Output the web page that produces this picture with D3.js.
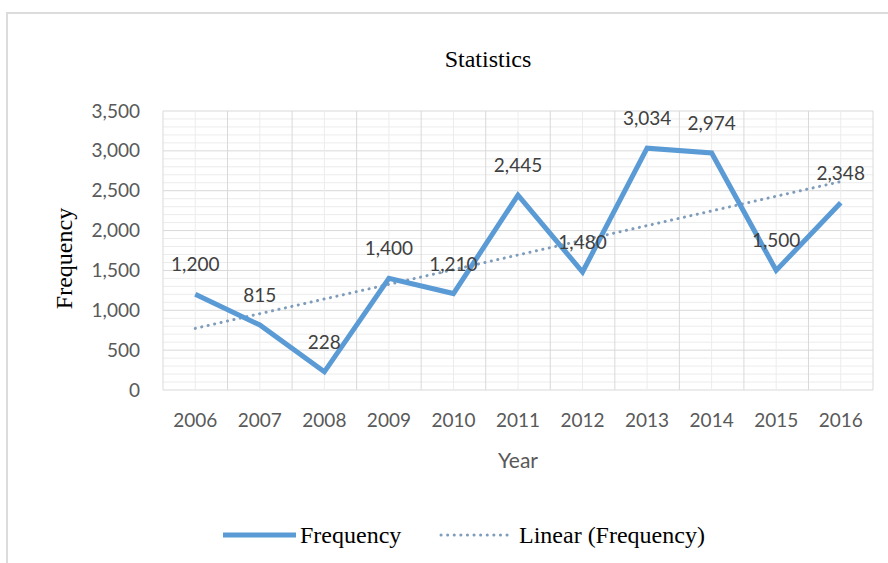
<!DOCTYPE html>
<html lang="en">
<head>
    <meta charset="UTF-8">
    <title>Statistics</title>
    <script src="https://d3js.org/d3.v7.min.js"></script>
    <style>
        body {
            margin: 0;
            background: #fff;
        }
        .serif {
            font-family: "Liberation Serif", "Times New Roman", serif;
            fill: #000;
        }
        .tick-text {
            font-family: Lato, "Open Sans", sans-serif;
            fill: #595959;
        }
    </style>
</head>
<body>
    <svg width="888" height="563"></svg>

    <script>
        const years = ['2006', '2007', '2008', '2009', '2010', '2011', '2012', '2013', '2014', '2015', '2016'];
        const frequency = [1200, 815, 228, 1400, 1210, 2445, 1480, 3034, 2974, 1500, 2348];
        const yTicks = [0, 500, 1000, 1500, 2000, 2500, 3000, 3500];

        const svg = d3.select("svg");

        // outer chart border (only left and top visible)
        svg.append("rect")
            .attr("x", 7).attr("y", 13)
            .attr("width", 900).attr("height", 600)
            .attr("fill", "none")
            .attr("stroke", "#dcdcdc")
            .attr("stroke-width", 2);

        const plot = { left: 163, right: 873, top: 111, bottom: 390 };

        const x = d3.scaleBand().domain(years).range([plot.left, plot.right]);
        const y = d3.scaleLinear().domain([0, 3500]).range([plot.bottom, plot.top]);
        const cx = d => x(d) + x.bandwidth() / 2;

        const g = svg.append("g");

        // horizontal grid, minor every 100
        g.append("g").selectAll("line")
            .data(d3.range(0, 3501, 100))
            .join("line")
            .attr("x1", plot.left).attr("x2", plot.right)
            .attr("y1", d => y(d)).attr("y2", d => y(d))
            .attr("stroke", d => d % 500 === 0 ? "#d9d9d9" : "#ececec")
            .attr("stroke-width", 1);

        // vertical grid: category borders and centers
        g.append("g").selectAll("line")
            .data(years.concat(["end"]))
            .join("line")
            .attr("x1", (d, i) => plot.left + i * x.bandwidth())
            .attr("x2", (d, i) => plot.left + i * x.bandwidth())
            .attr("y1", plot.top).attr("y2", plot.bottom)
            .attr("stroke", "#d9d9d9");
        g.append("g").selectAll("line")
            .data(years)
            .join("line")
            .attr("x1", d => cx(d)).attr("x2", d => cx(d))
            .attr("y1", plot.top).attr("y2", plot.bottom)
            .attr("stroke", "#ececec");

        // y axis labels
        const yAxis = g.append("g")
            .attr("transform", `translate(${plot.left - 23},0)`)
            .call(d3.axisLeft(y).tickValues(yTicks).tickSize(0).tickPadding(0).tickFormat(d3.format(",")));
        yAxis.select(".domain").remove();
        yAxis.selectAll("text")
            .attr("class", "tick-text")
            .style("font-size", "19px");

        // x axis labels
        const xAxis = g.append("g")
            .attr("transform", `translate(0,${plot.bottom})`)
            .call(d3.axisBottom(x).tickSize(0).tickPadding(24));
        xAxis.select(".domain").remove();
        xAxis.selectAll("text")
            .attr("class", "tick-text")
            .style("font-size", "19px");

        // titles
        svg.append("text")
            .attr("class", "serif")
            .attr("x", 488).attr("y", 67)
            .attr("text-anchor", "middle")
            .style("font-size", "24px")
            .text("Statistics");

        svg.append("text")
            .attr("class", "tick-text")
            .attr("x", (plot.left + plot.right) / 2).attr("y", 468)
            .attr("text-anchor", "middle")
            .style("font-size", "21px")
            .text("Year");

        svg.append("text")
            .attr("class", "serif")
            .attr("transform", `translate(72,${(plot.top + plot.bottom) / 2 + 8}) rotate(-90)`)
            .attr("text-anchor", "middle")
            .style("font-size", "24px")
            .text("Frequency");

        // linear trend (least squares on the series)
        const n = frequency.length;
        const mx = d3.mean(d3.range(n));
        const my = d3.mean(frequency);
        const slope = d3.sum(frequency, (v, i) => (i - mx) * (v - my)) / d3.sum(d3.range(n), i => (i - mx) ** 2);
        const icept = my - slope * mx;
        const trend = years.map((yr, i) => ({ yr, v: icept + slope * i }));

        const line = d3.line()
            .x(d => cx(d.yr))
            .y(d => y(d.v));

        g.append("path")
            .datum(trend)
            .attr("d", line)
            .attr("fill", "none")
            .attr("stroke", "#7f9dbb")
            .attr("stroke-width", 3)
            .attr("stroke-linecap", "round")
            .attr("stroke-dasharray", "0.1 6.5");

        g.append("path")
            .datum(years.map((yr, i) => ({ yr, v: frequency[i] })))
            .attr("d", line)
            .attr("fill", "none")
            .attr("stroke", "#5b9bd5")
            .attr("stroke-width", 5)
            .attr("stroke-linejoin", "miter");

        // data labels
        g.append("g").selectAll("text")
            .data(years.map((yr, i) => ({ yr, v: frequency[i] })))
            .join("text")
            .attr("class", "tick-text")
            .attr("x", d => cx(d.yr))
            .attr("y", d => y(d.v) - 23)
            .attr("text-anchor", "middle")
            .style("fill", "#404040")
            .style("font-size", "19px")
            .text(d => d3.format(",")(d.v));

        // legend
        const lg = svg.append("g").attr("transform", "translate(0,535)");
        lg.append("line")
            .attr("x1", 223).attr("x2", 296).attr("y1", 0).attr("y2", 0)
            .attr("stroke", "#5b9bd5").attr("stroke-width", 5);
        lg.append("text")
            .attr("class", "serif")
            .attr("x", 300).attr("y", 8)
            .style("font-size", "24px")
            .text("Frequency");
        lg.append("line")
            .attr("x1", 441).attr("x2", 512).attr("y1", 0).attr("y2", 0)
            .attr("stroke", "#7f9dbb").attr("stroke-width", 3)
            .attr("stroke-linecap", "round")
            .attr("stroke-dasharray", "0.1 6.5");
        lg.append("text")
            .attr("class", "serif")
            .attr("x", 519).attr("y", 8)
            .style("font-size", "24px")
            .text("Linear (Frequency)");
    </script>
</body>
</html>
